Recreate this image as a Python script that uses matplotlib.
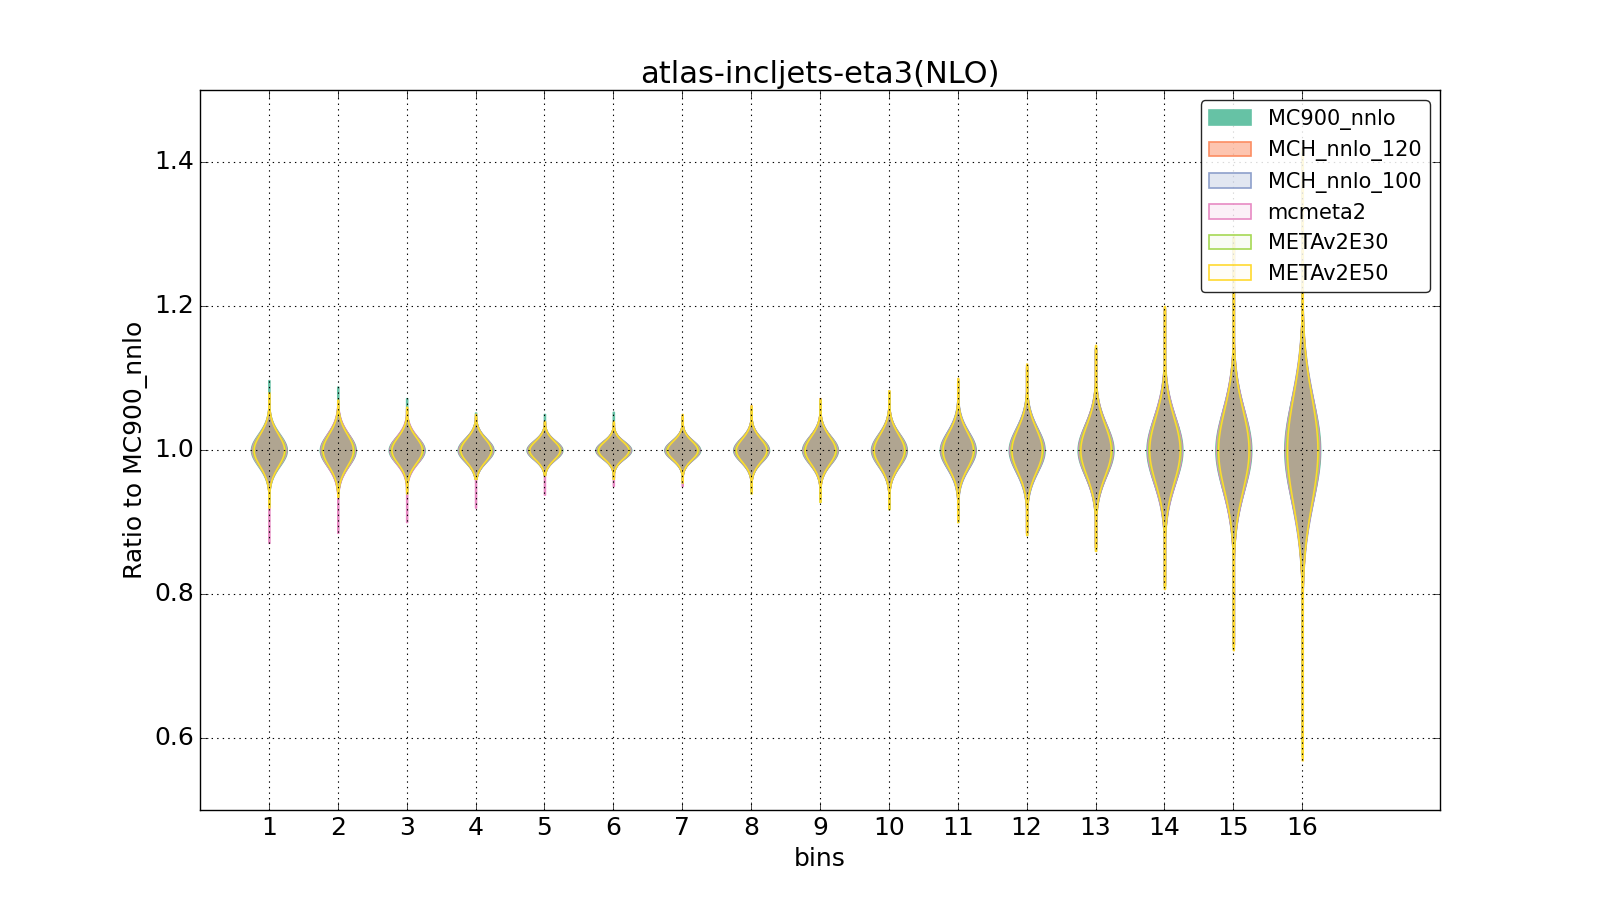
import numpy as np
import matplotlib
matplotlib.use("Agg")
import matplotlib.pyplot as plt
from matplotlib.patches import Patch

plt.style.use("classic")

bins = list(range(1, 17))
pdf_names = ["MC900_nnlo", "MCH_nnlo_120", "MCH_nnlo_100", "mcmeta2", "METAv2E30", "METAv2E50"]
pdf_colors = ["#66c2a5", "#fc8d62", "#8da0cb", "#e78ac3", "#a6d854", "#ffd92f"]
pdf_alpha = [1.0, 0.5, 0.25, 0.125, 0.0625, 0.03125]
pdf_widths = [0.52, 0.5, 0.5, 0.49, 0.47, 0.44]

# body spread (std-like) per bin, per PDF
sig_mc900 = [0.022, 0.022, 0.018, 0.016, 0.013, 0.012, 0.013, 0.016, 0.019, 0.022, 0.025, 0.030, 0.035, 0.045, 0.055, 0.070]
sig_mch120 = [0.021, 0.022, 0.018, 0.016, 0.013, 0.012, 0.013, 0.016, 0.019, 0.022, 0.025, 0.030, 0.036, 0.046, 0.056, 0.072]
sig_mch100 = [0.021, 0.022, 0.018, 0.016, 0.013, 0.012, 0.013, 0.016, 0.019, 0.022, 0.026, 0.031, 0.036, 0.047, 0.057, 0.074]
sig_meta2 = [0.022, 0.023, 0.019, 0.016, 0.013, 0.012, 0.013, 0.016, 0.019, 0.022, 0.025, 0.030, 0.035, 0.046, 0.056, 0.072]
sig_e30 = [0.022, 0.022, 0.018, 0.016, 0.013, 0.012, 0.013, 0.016, 0.019, 0.022, 0.025, 0.030, 0.035, 0.045, 0.055, 0.072]
sig_e50 = [0.022, 0.022, 0.018, 0.016, 0.013, 0.012, 0.013, 0.016, 0.019, 0.022, 0.025, 0.030, 0.035, 0.045, 0.056, 0.074]

# extremes per bin, per PDF
hi_mc900 = [1.097, 1.088, 1.072, 1.052, 1.050, 1.053, 1.045, 1.058, 1.068, 1.078, 1.095, 1.112, 1.140, 1.190, 1.280, 1.380]
lo_mc900 = [0.935, 0.945, 0.950, 0.962, 0.968, 0.968, 0.962, 0.950, 0.940, 0.928, 0.910, 0.890, 0.870, 0.820, 0.740, 0.620]
hi_mch120 = [1.075, 1.065, 1.055, 1.045, 1.038, 1.035, 1.045, 1.058, 1.068, 1.080, 1.095, 1.115, 1.140, 1.195, 1.290, 1.400]
lo_mch120 = [0.930, 0.940, 0.945, 0.960, 0.965, 0.962, 0.958, 0.945, 0.932, 0.920, 0.905, 0.885, 0.865, 0.812, 0.730, 0.600]
hi_mch100 = [1.075, 1.065, 1.055, 1.045, 1.038, 1.035, 1.045, 1.058, 1.068, 1.080, 1.095, 1.115, 1.140, 1.195, 1.290, 1.400]
lo_mch100 = [0.930, 0.940, 0.945, 0.960, 0.965, 0.962, 0.958, 0.945, 0.932, 0.920, 0.905, 0.885, 0.865, 0.812, 0.730, 0.600]
hi_meta2 = [1.078, 1.068, 1.058, 1.048, 1.040, 1.038, 1.048, 1.062, 1.072, 1.082, 1.098, 1.118, 1.142, 1.198, 1.295, 1.410]
lo_meta2 = [0.871, 0.885, 0.900, 0.920, 0.938, 0.950, 0.950, 0.945, 0.935, 0.925, 0.905, 0.885, 0.865, 0.815, 0.730, 0.600]
hi_e30 = [1.078, 1.068, 1.058, 1.048, 1.040, 1.038, 1.048, 1.060, 1.070, 1.082, 1.098, 1.118, 1.144, 1.198, 1.295, 1.415]
lo_e30 = [0.922, 0.935, 0.940, 0.960, 0.965, 0.960, 0.955, 0.940, 0.928, 0.918, 0.900, 0.882, 0.860, 0.808, 0.724, 0.575]
hi_e50 = [1.080, 1.070, 1.060, 1.050, 1.040, 1.040, 1.050, 1.062, 1.072, 1.083, 1.100, 1.120, 1.146, 1.200, 1.300, 1.420]
lo_e50 = [0.920, 0.935, 0.940, 0.960, 0.965, 0.960, 0.955, 0.940, 0.928, 0.918, 0.900, 0.882, 0.860, 0.807, 0.722, 0.569]

sigmas = [sig_mc900, sig_mch120, sig_mch100, sig_meta2, sig_e30, sig_e50]
his = [hi_mc900, hi_mch120, hi_mch100, hi_meta2, hi_e30, hi_e50]
los = [lo_mc900, lo_mch120, lo_mch100, lo_meta2, lo_e30, lo_e50]

center = 1.0
tail_floor = 0.03


def make_stats(sig, lo, hi):
    stats = []
    for s, a, b in zip(sig, lo, hi):
        coords = np.linspace(a, b, 400)
        vals = np.exp(-0.5 * ((coords - center) / s) ** 2)
        vals = np.maximum(vals, tail_floor)
        stats.append(dict(coords=coords, vals=vals, mean=center, median=center,
                          min=a, max=b))
    return stats


fig = plt.figure(figsize=(16, 9), dpi=100, facecolor="white")
ax = fig.add_subplot(111)
fig.subplots_adjust(left=0.125, right=0.9, bottom=0.1, top=0.9)
ax.set_facecolor("white")

handles = []
for name, col, al, w, sg, lo, hi in zip(pdf_names, pdf_colors, pdf_alpha, pdf_widths, sigmas, los, his):
    parts = ax.violin(make_stats(sg, lo, hi), positions=bins, widths=w,
                      showmeans=False, showextrema=False, showmedians=False)
    rgba = matplotlib.colors.to_rgba(col, al)
    for body in parts["bodies"]:
        body.set_alpha(None)
        body.set_facecolor(rgba)
        body.set_edgecolor(col)
        body.set_linewidth(1.1)
    handles.append(Patch(facecolor=rgba, edgecolor=col, linewidth=1.2, label=name))

ax.set_xlim(0, 18)
ax.set_ylim(0.5, 1.5)
ax.set_xticks(bins)
ax.set_yticks([0.6, 0.8, 1.0, 1.2, 1.4])
ax.tick_params(labelsize=18, direction="in", length=6)
ax.grid(True, linestyle=":", color="black", linewidth=0.8)
ax.set_axisbelow(False)

ax.set_title("atlas-incljets-eta3(NLO)", fontsize=22)
ax.set_xlabel("bins", fontsize=18)
ax.set_ylabel("Ratio to MC900_nnlo", fontsize=18)

leg = ax.legend(handles=handles, loc="upper right", fontsize=15, fancybox=True,
                framealpha=0.85, handlelength=2.0, labelspacing=0.5)
leg.get_frame().set_linewidth(1.0)

fig.savefig("out.png", dpi=100, facecolor="white")
